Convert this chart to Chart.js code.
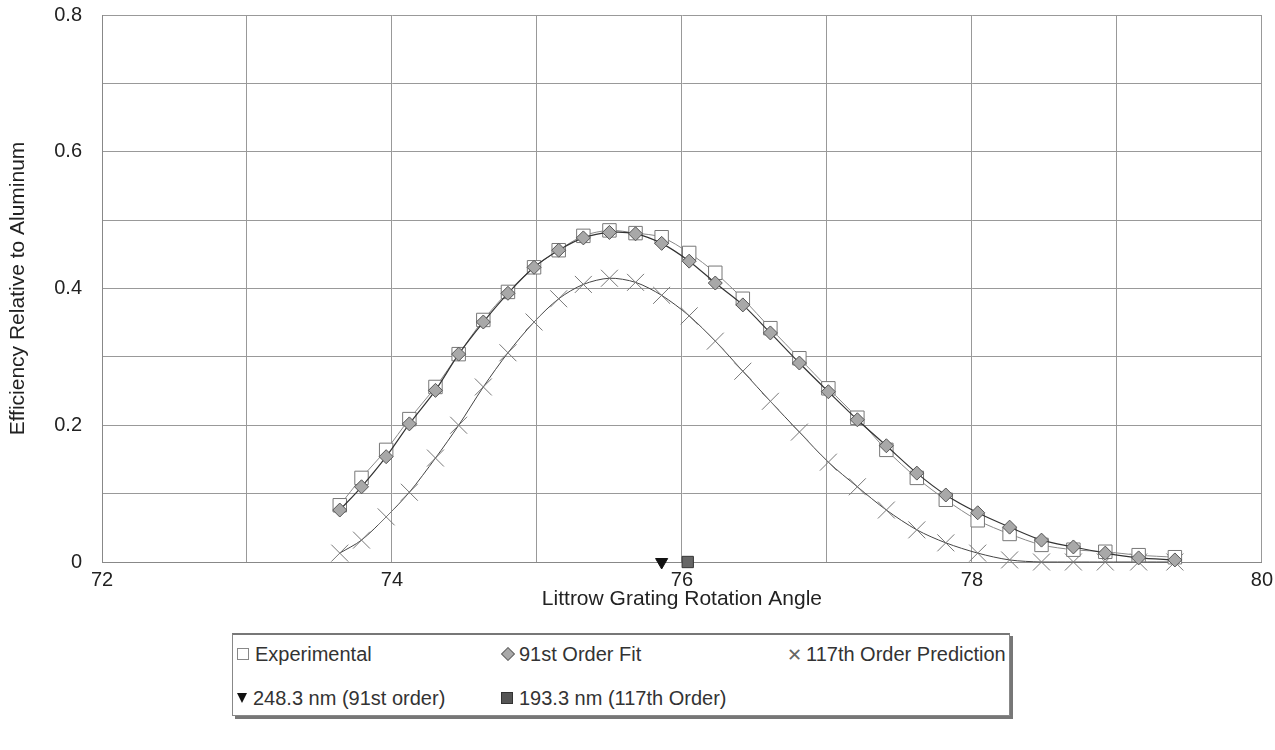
<!DOCTYPE html>
<html>
<head>
<meta charset="utf-8">
<script src="https://cdn.jsdelivr.net/npm/chart.js@4/dist/chart.umd.min.js"></script>
<style>
  body { margin: 0; background: #fff; font-family: "Liberation Sans", Arial, sans-serif; overflow: hidden; }
  #wrap { position: relative; width: 1275px; height: 750px; overflow: hidden; }
  #chartBox { position: absolute; left: 0; top: -17px; width: 1279px; height: 629px; }
  #legend {
    position: absolute; left: 232px; top: 633px; width: 776px; height: 80px;
    border: 1px solid #888; border-top: 2px solid #777; box-shadow: 3px 3px 0 #777; background: #fff;
    font-size: 20px; color: #333;
  }
  .item { position: absolute; white-space: nowrap; line-height: 22px; }
  .mk { display: inline-block; vertical-align: middle; margin-right: 6px; position: relative; top: -2px; }
  .sq { width: 10px; height: 10px; border: 1px solid #888; background: #fff; }
  .dia { width: 8px; height: 8px; border: 1px solid #666; background: #aaa; transform: rotate(45deg); margin-left: 2px; }
  .x { font-size: 18px; color: #666; margin-right: 4px; top: -1px; }
  .tri { width: 0; height: 0; border-left: 5px solid transparent; border-right: 5px solid transparent; border-top: 10px solid #111; }
  .fsq { width: 10px; height: 10px; background: #555; border: 1px solid #333; }
</style>
</head>
<body>
<div id="wrap">
  <div id="chartBox"><canvas id="chart"></canvas></div>
  <div id="legend">
    <div class="item" style="left:4px; top:8px;"><span class="mk sq"></span>Experimental</div>
    <div class="item" style="left:268px; top:8px;"><span class="mk dia"></span>91st Order Fit</div>
    <div class="item" style="left:554px; top:8px;"><span class="mk x">&#x2715;</span>117th Order Prediction</div>
    <div class="item" style="left:4px; top:52px;"><span class="mk tri"></span>248.3 nm (91st order)</div>
    <div class="item" style="left:268px; top:52px;"><span class="mk fsq"></span>193.3 nm (117th Order)</div>
  </div>
</div>
<script>
// Littrow grating rotation angle (deg) for each measured point
const angles = [73.64, 73.79, 73.96, 74.12, 74.30, 74.46, 74.63, 74.80, 74.98, 75.15,
                75.32, 75.50, 75.68, 75.86, 76.05, 76.23, 76.42, 76.61, 76.81, 77.01,
                77.21, 77.41, 77.62, 77.82, 78.04, 78.26, 78.48, 78.70, 78.92, 79.15, 79.40];

const experimental = [0.083, 0.123, 0.164, 0.209, 0.256, 0.304, 0.354, 0.395, 0.431, 0.456,
                      0.477, 0.485, 0.481, 0.475, 0.452, 0.423, 0.385, 0.342, 0.298, 0.254,
                      0.211, 0.164, 0.123, 0.091, 0.061, 0.041, 0.025, 0.018, 0.015, 0.010, 0.007];

const fit91 = [0.076, 0.110, 0.154, 0.202, 0.251, 0.304, 0.351, 0.393, 0.431, 0.456,
               0.474, 0.482, 0.480, 0.466, 0.440, 0.408, 0.376, 0.335, 0.291, 0.249,
               0.208, 0.170, 0.130, 0.098, 0.072, 0.051, 0.032, 0.022, 0.013, 0.006, 0.003];

const pred117 = [0.013, 0.032, 0.066, 0.102, 0.152, 0.200, 0.256, 0.306, 0.351, 0.385,
                 0.406, 0.415, 0.409, 0.390, 0.360, 0.323, 0.279, 0.235, 0.190, 0.146,
                 0.110, 0.076, 0.047, 0.028, 0.013, 0.003, 0, 0, 0, 0, 0];

// wavelength markers on the angle axis
const angle248 = [75.86];
const angle193 = [76.04];

const xTicks = [72, 74, 76, 78, 80];
const yTicks = [0, 0.2, 0.4, 0.6, 0.8];

const pts = (xs, ys) => xs.map((x, i) => ({x: x, y: ys[i]}));

const tickFont = {family: '"Liberation Sans", Arial, sans-serif', size: 20};
const titleFont = {family: '"Liberation Sans", Arial, sans-serif', size: 21};

const data = {
  datasets: [
    {
      label: '91st Order Fit',
      data: pts(angles, fit91),
      showLine: true, tension: 0.3,
      borderColor: '#333', borderWidth: 1.2,
      pointStyle: 'rectRot', pointRadius: 7,
      pointBackgroundColor: '#a8a8a8', pointBorderColor: '#555', pointBorderWidth: 1
    },
    {
      label: 'Experimental',
      data: pts(angles, experimental),
      showLine: true, tension: 0.3,
      borderColor: '#888', borderWidth: 1,
      pointStyle: 'rect', pointRadius: 9.5,
      pointBackgroundColor: '#fff', pointBorderColor: '#777', pointBorderWidth: 1
    },
    {
      label: '117th Order Prediction',
      data: pts(angles, pred117),
      showLine: true, tension: 0.3,
      borderColor: '#444', borderWidth: 1,
      pointStyle: 'crossRot', pointRadius: 12,
      pointBorderColor: '#777', pointBorderWidth: 1
    },
    {
      label: '248.3 nm (91st order)',
      data: angle248.map(x => ({x: x, y: 0})),
      pointStyle: 'triangle', rotation: 180, pointRadius: 7,
      pointBackgroundColor: '#111', pointBorderColor: '#111'
    },
    {
      label: '193.3 nm (117th Order)',
      data: angle193.map(x => ({x: x, y: 0})),
      pointStyle: 'rect', pointRadius: 8,
      pointBackgroundColor: '#666', pointBorderColor: '#333', pointBorderWidth: 1
    }
  ]
};

new Chart(document.getElementById('chart'), {
  type: 'scatter',
  data,
  options: {
    responsive: true,
    maintainAspectRatio: false,
    animation: false,
    clip: false,
    layout: {padding: {top: 2, right: 5, bottom: 0, left: 0}},
    plugins: {legend: {display: false}, tooltip: {enabled: false}},
    scales: {
      x: {
        type: 'linear', min: 72, max: 80,
        afterFit: s => { s.height = 50; },
        ticks: {
          stepSize: 1, color: '#222', font: tickFont, padding: 6, maxRotation: 0,
          callback: v => xTicks.includes(v) ? String(v) : ''
        },
        grid: {color: '#999', lineWidth: 1, drawTicks: false},
        border: {color: '#888'},
        title: {display: true, text: 'Littrow Grating Rotation Angle', color: '#222', font: titleFont, padding: 0}
      },
      y: {
        type: 'linear', min: 0, max: 0.8,
        afterFit: s => { s.width = 102; },
        ticks: {
          stepSize: 0.1, color: '#222', font: tickFont, padding: 20,
          callback: v => {
            const r = Math.round(v * 10) / 10;
            return yTicks.some(t => Math.abs(t - r) < 1e-9) ? String(r) : '';
          }
        },
        grid: {color: '#999', lineWidth: 1, drawTicks: false},
        border: {color: '#888'},
        title: {display: true, text: 'Efficiency Relative to Aluminum', color: '#222', font: titleFont, padding: {top: 6, bottom: 6}}
      }
    }
  }
});
</script>
</body>
</html>
